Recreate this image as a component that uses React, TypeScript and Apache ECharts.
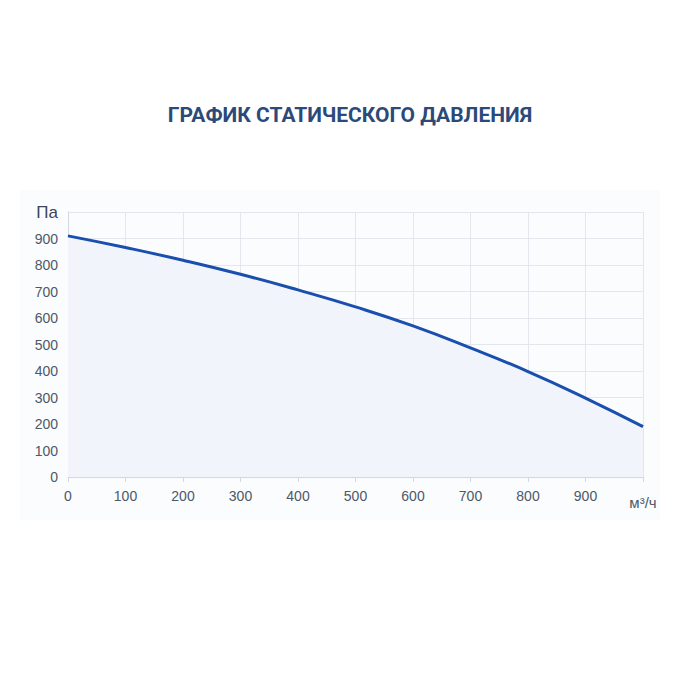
import { useEffect, useRef } from 'react';
import * as echarts from 'echarts';

// расход воздуха, м³/ч
const flow = [0, 100, 200, 300, 400, 500, 600, 700, 800, 900, 1000];
// статическое давление, Па
const pressure = [910, 866, 818, 765, 706, 642, 570, 487, 398, 298, 190];

const title = 'ГРАФИК СТАТИЧЕСКОГО ДАВЛЕНИЯ';
const yUnit = 'Па';
const xUnit = 'м³/ч';

const labelFont = '"Liberation Sans", Arial, sans-serif';

export default function App() {
  const chartRef = useRef<HTMLDivElement>(null);

  useEffect(() => {
    if (!chartRef.current) return;
    const chart = echarts.init(chartRef.current, undefined, { renderer: 'svg' });

    const option: echarts.EChartsOption = {
      animation: false,
      backgroundColor: '#ffffff',
      textStyle: { fontFamily: labelFont },
      title: {
        text: title,
        left: 'center',
        top: 99,
        textStyle: {
          color: '#2c4a79',
          fontSize: 21,
          fontWeight: 'bold',
          fontFamily: 'Roboto, sans-serif',
        },
      },
      graphic: [
        {
          type: 'rect',
          z: -10,
          shape: { x: 20, y: 190, width: 640, height: 330 },
          style: { fill: '#fbfcfe' },
        },
      ],
      grid: { left: 68, right: 57, top: 212, bottom: 223 },
      xAxis: {
        type: 'value',
        min: 0,
        max: 1000,
        interval: 100,
        axisLine: { show: true, lineStyle: { color: '#d3d8e0' } },
        axisTick: { show: true, length: 5, lineStyle: { color: '#d3d8e0' } },
        splitLine: { show: true, lineStyle: { color: '#e3e7ed' } },
        axisLabel: {
          color: '#4d5868',
          fontSize: 14,
          fontFamily: labelFont,
          margin: 12,
          formatter: (v: number) => (v === 1000 ? `{u|${xUnit}}` : String(v)),
          rich: { u: { fontSize: 15, color: '#4d5868', fontFamily: labelFont, padding: [6, 0, 0, 0] } },
        },
      },
      yAxis: {
        type: 'value',
        min: 0,
        max: 1000,
        interval: 100,
        axisLine: { show: true, lineStyle: { color: '#d3d8e0' } },
        axisTick: { show: false },
        splitLine: { show: true, lineStyle: { color: '#e3e7ed' } },
        axisLabel: {
          color: '#4d5868',
          fontSize: 14,
          fontFamily: labelFont,
          margin: 10,
          formatter: (v: number) => (v === 1000 ? `{u|${yUnit}}` : String(v)),
          rich: { u: { fontSize: 17, color: '#3c4656', fontFamily: labelFont } },
        },
      },
      series: [
        {
          type: 'line',
          data: flow.map((x, i) => [x, pressure[i]]),
          smooth: true,
          showSymbol: false,
          lineStyle: { color: '#1a4fae', width: 3 },
          areaStyle: { color: '#f1f5fb', opacity: 1 },
        },
      ],
    };

    chart.setOption(option);
    return () => chart.dispose();
  }, []);

  return (
    <div
      ref={chartRef}
      style={{ position: 'absolute', left: 0, top: 0, width: 700, height: 700 }}
    />
  );
}
